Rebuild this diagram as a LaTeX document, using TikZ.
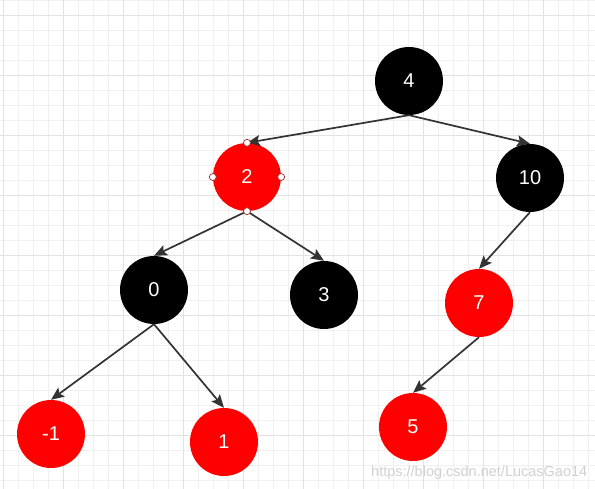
\documentclass[tikz,border=0pt]{standalone}
\usepackage{fontspec}
\setmainfont{Liberation Sans}
\usepackage{xcolor}
\usetikzlibrary{arrows.meta}

\definecolor{gridminor}{HTML}{F0F0F0}
\definecolor{gridmajor}{HTML}{E2E2E2}
\definecolor{rbred}{HTML}{FF0000}
\definecolor{edgegray}{HTML}{333333}
\definecolor{handle}{HTML}{A03030}

\tikzset{
	rbnode/.style = {circle, minimum size=68pt, inner sep=0pt, text=white, font=\fontsize{20}{20}\selectfont},
	rednode/.style = {rbnode, fill=rbred},
	blacknode/.style = {rbnode, fill=black},
	edge/.style = {draw=edgegray, line width=1.7pt, -{Stealth[length=13pt, width=11pt, inset=2.5pt]}},
	handlemark/.style = {circle, fill=white, draw=handle, line width=0.7pt, minimum size=7pt, inner sep=0pt}
}

\begin{document}
\begin{tikzpicture}[x=1pt, y=-1pt]
			\useasboundingbox (0,0) rectangle (595,489);
			\fill[white] (0,0) rectangle (595,489);
			% grid
			\foreach \x in {3,18,...,593}
				\draw[gridminor, line width=0.9pt] (\x,0) -- (\x,489);
			\foreach \y in {0,15,...,489}
				\draw[gridminor, line width=0.9pt] (0,\y) -- (595,\y);
			\foreach \x in {3,63,...,593}
				\draw[gridmajor, line width=0.9pt] (\x,0) -- (\x,489);
			\foreach \y in {15,75,...,489}
				\draw[gridmajor, line width=0.9pt] (0,\y) -- (595,\y);
			% watermark
			\node[anchor=base west, inner sep=0pt, text=black!18, font=\fontsize{14.5}{15}\selectfont] (mark) at (371,476) {https://blog.csdn.net/LucasGao14};
			% tree
			\node[blacknode] (n4) at (409,81) {4};
			\node[rednode] (n2) at (247,177) {2};
			\node[blacknode] (n10) at (530,178) {10};
			\node[blacknode] (n0) at (154,290) {0};
			\node[blacknode] (n3) at (324,295) {3};
			\node[rednode] (n7) at (479,303) {7};
			\node[rednode] (nm1) at (51,434) {-1};
			\node[rednode] (n1) at (224,442) {1};
			\node[rednode] (n5) at (413,427) {5};
			\draw[edge] (n4.south) -- (n2.north);
			\draw[edge] (n4.south) -- (n10.north);
			\draw[edge] (n2.south) -- (n0.north);
			\draw[edge] (n2.south) -- (n3.north);
			\draw[edge] (n10.south) -- (n7.north);
			\draw[edge] (n0.south) -- (nm1.north);
			\draw[edge] (n0.south) -- (n1.north);
			\draw[edge] (n7.south) -- (n5.north);
			% selection handles
			\foreach \side in {north, south, east, west}
				\node[handlemark] at (n2.\side) {};
		\end{tikzpicture}
\end{document}
